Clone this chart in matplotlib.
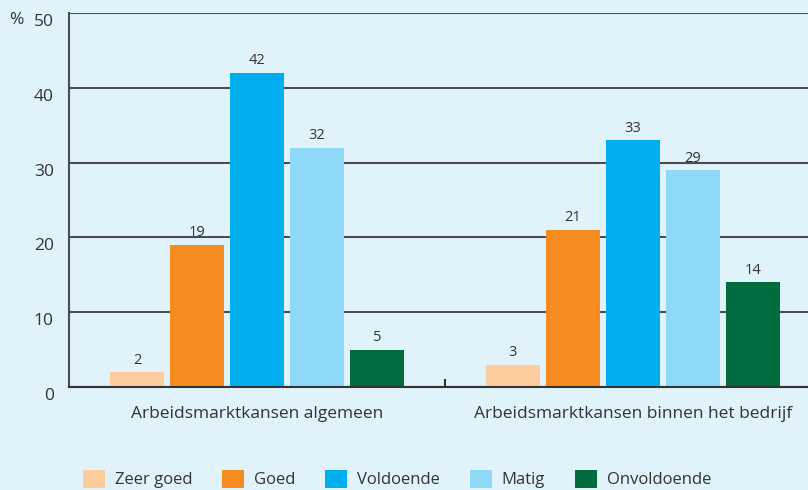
import matplotlib
matplotlib.use("Agg")
import numpy as np
import matplotlib.pyplot as plt
import matplotlib.transforms as mtransforms
from matplotlib.patches import Patch

# data
groups = ["Arbeidsmarktkansen algemeen", "Arbeidsmarktkansen binnen het bedrijf"]
series = ["Zeer goed", "Goed", "Voldoende", "Matig", "Onvoldoende"]
values = [
    [2, 19, 42, 32, 5],
    [3, 21, 33, 29, 14],
]
colors = ["#fdcc9c", "#f68b1f", "#00aeef", "#8ed8f8", "#006c3e"]
bg = "#e0f3fb"
txt = "#333333"

plt.rcParams["font.family"] = ["Open Sans", "DejaVu Sans"]

fig = plt.figure(figsize=(8.08, 4.90), dpi=100, facecolor=bg)
ax = fig.add_axes([69 / 808, 103 / 490, 752 / 808, 374 / 490])
ax.set_facecolor(bg)

step = 0.1596
width = 0.1436
x = np.arange(len(groups))
for j, name in enumerate(series):
    pos = x + (j - 2) * step
    vals = [v[j] for v in values]
    bars = ax.bar(pos, vals, width, color=colors[j], zorder=3)
    for b, v in zip(bars, vals):
        ax.text(b.get_x() + b.get_width() / 2, v + 0.6, str(v),
                ha="center", va="bottom", fontsize=10.5, color=txt)

ax.set_xlim(-0.5, 1.5)
ax.set_ylim(0, 50)
ax.set_yticks(range(0, 51, 10))
ax.yaxis.grid(True, color="#4d4d4d", linewidth=1.5, zorder=1)
ax.tick_params(axis="y", length=0, pad=11, labelsize=12.5, labelcolor=txt)
ax.set_xticks(x)
ax.set_xticklabels(groups)
ax.tick_params(axis="x", which="major", length=0, pad=14, labelsize=12.5, labelcolor=txt)
ax.set_xticks([0.5], minor=True)
ax.tick_params(axis="x", which="minor", direction="in", length=6, width=1.5, color="#333333")

# y labels sit a little below their gridlines in the original
shift = mtransforms.ScaledTranslation(0, -7 / 100, fig.dpi_scale_trans)
for lab in ax.get_yticklabels():
    lab.set_transform(lab.get_transform() + shift)

for s in ["top", "right"]:
    ax.spines[s].set_visible(False)
ax.spines["left"].set_color("#4d4d4d")
ax.spines["left"].set_linewidth(1.5)
ax.spines["bottom"].set_color("#333333")
ax.spines["bottom"].set_linewidth(1.5)
ax.spines["bottom"].set_zorder(4)

fig.text(9 / 808, 1 - 20 / 490, "%", fontsize=12.5, color=txt, va="center", ha="left")

handles = [Patch(facecolor=c, edgecolor="none") for c in colors]
fig.legend(handles, series, loc="center", bbox_to_anchor=(397 / 808, 11 / 490),
           ncol=5, frameon=False, fontsize=12, handlelength=1.3, handleheight=1.3,
           handletextpad=0.6, columnspacing=1.8, labelcolor=txt)

fig.savefig("out.png", dpi=100, facecolor=bg)
